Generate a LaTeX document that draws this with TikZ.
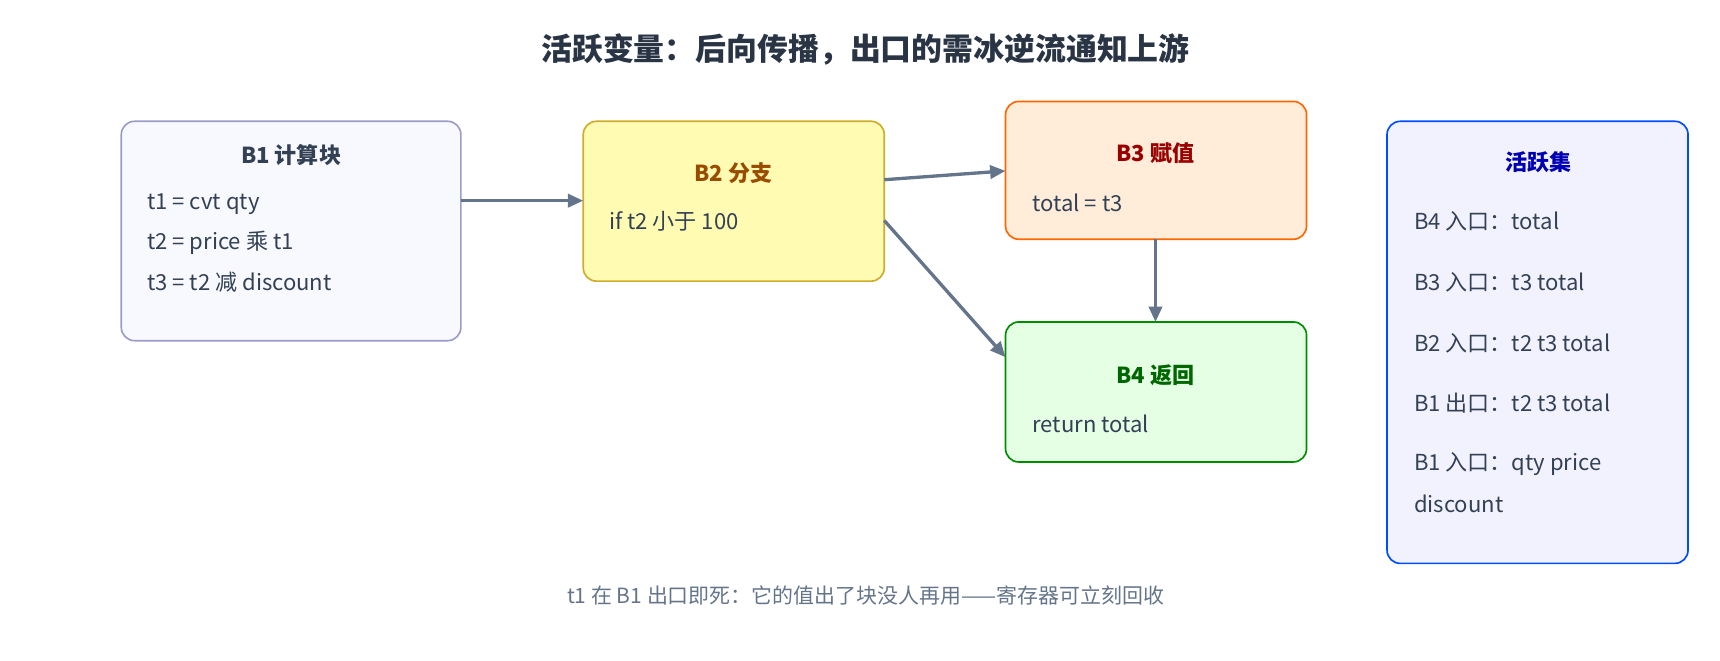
\documentclass[tikz,border=0pt]{standalone}
\usepackage{fontspec}
\setmainfont{Noto Sans CJK SC}
\usepackage{xcolor}
\usetikzlibrary{arrows.meta}
\definecolor{edge}{HTML}{64748B}
\definecolor{ink}{HTML}{334155}
\tikzset{
  blk/.style={draw, rounded corners=12pt, line width=1.5pt},
  ttl/.style={font=\fontsize{20}{24}\selectfont\bfseries},
  txt/.style={anchor=west, text=ink, font=\fontsize{20}{24}\selectfont},
  flow/.style={draw=edge, line width=3pt, -{Triangle[length=14pt,width=12pt]}}
}
\begin{document}
\begin{tikzpicture}[x=1pt,y=-1pt]
\useasboundingbox (0,0) rectangle (1560,599);
% blocks
\draw[blk, draw=gray!70!blue!60, fill=gray!8!blue!3] (110,110) rectangle (418,309);
\draw[blk, draw=yellow!60!orange!80!black, fill=yellow!30] (529,110) rectangle (802,255);
\draw[blk, draw=orange!80!red, fill=orange!15] (912,92) rectangle (1185,217);
\draw[blk, draw=green!55!black, fill=green!10] (912,292) rectangle (1185,419);
\draw[blk, draw=blue!70!cyan, fill=blue!5] (1258,110) rectangle (1531,511);
\coordinate (b1e) at (418,182);
\coordinate (b2w) at (529,182);
\coordinate (b2e) at (802,163);
\coordinate (b2s) at (802,200);
\coordinate (b3w) at (912,155);
\coordinate (b3s) at (1048,217);
\coordinate (b4n) at (1048,292);
\coordinate (b4w) at (912,324);

\node[font=\fontsize{28}{32}\selectfont\bfseries, text=ink!80!black] (title) at (785,45) {活跃变量：后向传播，出口的需冰逆流通知上游};

\node[ttl, text=ink] (b1t) at (264,141) {B1 计算块};
\node[txt] (b1a) at (130,185) {t1 = cvt qty};
\node[txt] (b1b) at (130,220) {t2 = price 乘 t1};
\node[txt] (b1c) at (130,256) {t3 = t2 减 discount};

\node[ttl, text=orange!60!black] (b2t) at (665,157) {B2 分支};
\node[txt] (b2a) at (549,201) {if t2 小于 100};

\node[ttl, text=red!60!black] (b3t) at (1048,139) {B3 赋值};
\node[txt] (b3a) at (933,184) {total = t3};

\node[ttl, text=green!40!black] (b4t) at (1048,340) {B4 返回};
\node[txt] (b4a) at (933,384) {return total};

\node[ttl, text=blue!70!black] (lvt) at (1395,147) {活跃集};
\node[txt] (lv1) at (1279,201) {B4 入口：total};
\node[txt] (lv2) at (1279,256) {B3 入口：t3 total};
\node[txt] (lv3) at (1279,311) {B2 入口：t2 t3 total};
\node[txt] (lv4) at (1279,366) {B1 出口：t2 t3 total};
\node[txt] (lv5) at (1279,421) {B1 入口：qty price};
\node[txt] (lv6) at (1279,457) {discount};

\node[text=edge, font=\fontsize{19}{23}\selectfont] (note) at (785,540) {t1 在 B1 出口即死：它的值出了块没人再用——寄存器可立刻回收};

% edges
\draw[flow] (b1e) -- (b2w);
\draw[flow] (b2e) -- (b3w);
\draw[flow] (b2s) -- (b4w);
\draw[flow] (b3s) -- (b4n);
\end{tikzpicture}
\end{document}
